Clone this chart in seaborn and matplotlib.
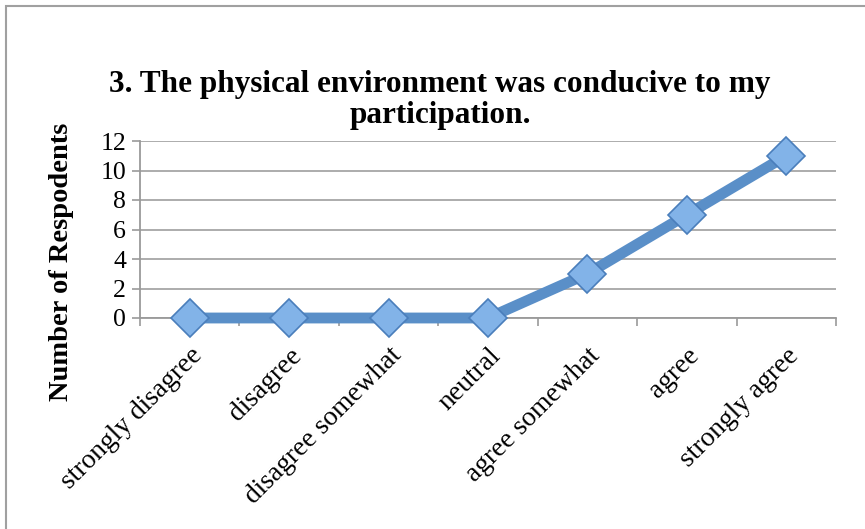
import matplotlib
matplotlib.use("Agg")
import matplotlib.pyplot as plt
import matplotlib.patches as mpatches
import matplotlib.transforms as mtransforms
import numpy as np
import pandas as pd
import seaborn as sns

categories = ["strongly disagree", "disagree", "disagree somewhat", "neutral",
              "agree somewhat", "agree", "strongly agree"]
respondents = [0, 0, 0, 0, 3, 7, 11]
y_ticks = [0, 2, 4, 6, 8, 10, 12]
title = "3. The physical environment was conducive to my\nparticipation."
y_label = "Number of Respodents"

sns.set_theme(style="white")
plt.rcParams['font.family'] = ['Liberation Serif', 'DejaVu Serif']
plt.rcParams['text.color'] = 'black'
plt.rcParams['xtick.color'] = 'black'
plt.rcParams['ytick.color'] = 'black'

fig = plt.figure(figsize=(8.65, 5.29), dpi=100)
ax = fig.add_axes([140/865, 1 - 318/529, 696/865, 177/529])

df = pd.DataFrame({"response": categories, "count": respondents})
sns.lineplot(data=df, x="response", y="count", sort=False, color="#5a8fc8",
             linewidth=7.8, marker="D", markersize=19,
             markerfacecolor="#82b3e8", markeredgecolor="#4a7ebb",
             markeredgewidth=1.2, ax=ax, zorder=3)
for l in ax.lines:
    l.set_clip_on(False)

ax.set_xlim(-0.5, 6.5)
ax.set_ylim(0, 12)
ax.set_yticks(y_ticks)
ax.set_xticks(range(len(categories)))
ax.set_xticklabels(categories, rotation=45, ha="right", rotation_mode="anchor")
ax.set_xticks(np.arange(-0.5, 7, 1), minor=True)
ax.set_xlabel("")
ax.set_ylabel("")

# nudge the slanted labels a little to the left, like the original
shift = mtransforms.ScaledTranslation(-6/100, 0, fig.dpi_scale_trans)
for lab in ax.get_xticklabels():
    lab.set_transform(lab.get_transform() + shift)

ax.yaxis.grid(True, color="#a6a6a6", linewidth=1.3)
ax.xaxis.grid(False)
for s in ["top", "right"]:
    ax.spines[s].set_visible(False)
for s in ["left", "bottom"]:
    ax.spines[s].set_color("#9a9a9a")
    ax.spines[s].set_linewidth(1.3)

ax.tick_params(axis="y", direction="out", length=6, width=1.2, color="#9a9a9a",
               labelcolor="black", labelsize=18.5, pad=4, left=True)
ax.tick_params(axis="x", which="major", length=0, labelcolor="black",
               labelsize=19.8, pad=18)
ax.tick_params(axis="x", which="minor", direction="out", length=6, width=1.2,
               color="#9a9a9a", bottom=True)

fig.text(440/865, 1 - 100/529, title, ha="center", va="center", color="black",
         fontsize=22.5, fontweight="bold", linespacing=1.12)
fig.text(62/865, 1 - 262/529, y_label, ha="center", va="center", color="black",
         rotation=90, fontsize=20.5, fontweight="bold")

fig.add_artist(mpatches.Rectangle((6/865, -0.1), 1.2, 1 - 6/529 + 0.1,
                                  fill=False, edgecolor="#a0a0a0", linewidth=1.5,
                                  transform=fig.transFigure))

fig.savefig("out.png", dpi=100)
